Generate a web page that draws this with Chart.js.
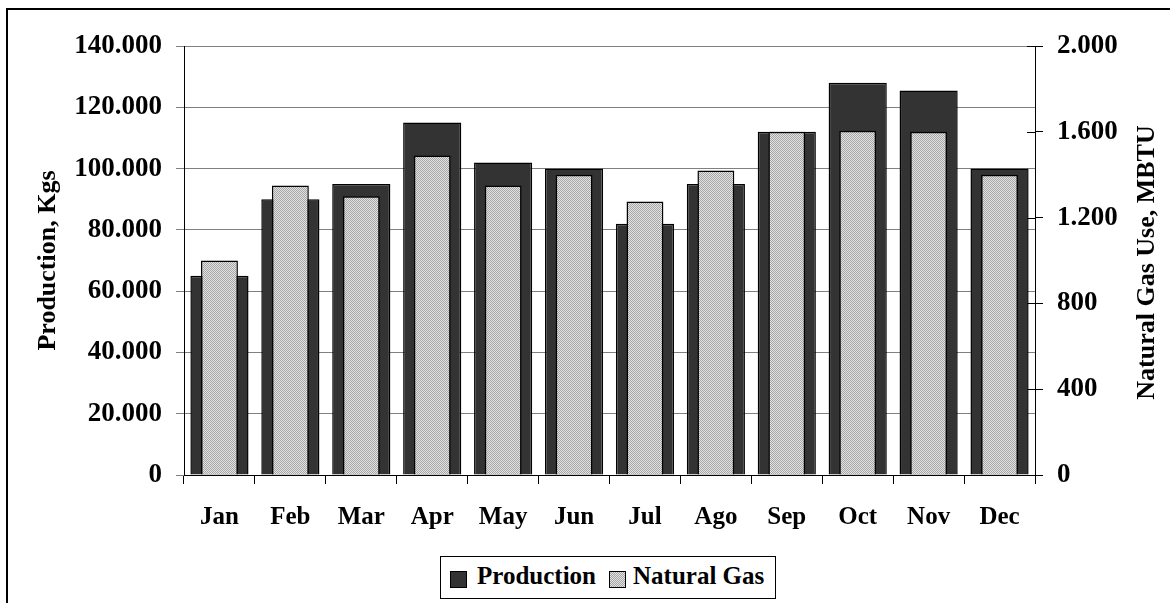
<!DOCTYPE html>
<html>
<head>
<meta charset="utf-8">
<script src="https://cdn.jsdelivr.net/npm/chart.js@4"></script>
<style>
  html, body { margin:0; padding:0; background:#fff; overflow:hidden; }
  #wrap { position:relative; width:1170px; height:603px; overflow:hidden; }
  #frame { position:absolute; left:6px; top:8px; width:1300px; height:700px; border:2px solid #000; box-sizing:border-box; }
  canvas { position:absolute; left:0; top:0; }
  #legend { position:absolute; left:440px; top:556px; width:336px; height:43px; border:1px solid #000; box-sizing:border-box; background:#fff;
            font-family:'Liberation Serif','Times New Roman',serif; font-weight:bold; font-size:25px; }
  .sw { position:absolute; top:14px; width:17px; height:17px; box-sizing:border-box; border:1px solid #000; }
  .lt { position:absolute; top:4px; line-height:30px; white-space:nowrap; }
</style>
</head>
<body>
<div id="wrap">
  <div id="frame"></div>
  <canvas id="c" width="1170" height="603"></canvas>
  <div id="legend"></div>
</div>
<script>
const categories = ['Jan','Feb','Mar','Apr','May','Jun','Jul','Ago','Sep','Oct','Nov','Dec'];
const productionValues = [65000, 90000, 95000, 115000, 102000, 100000, 82000, 95000, 112000, 128000, 125500, 100000];
const naturalGasValues = [1000, 1350, 1300, 1490, 1350, 1400, 1275, 1420, 1600, 1605, 1600, 1400];
const leftTickValues = [0, 20000, 40000, 60000, 80000, 100000, 120000, 140000];
const rightTickValues = [0, 400, 800, 1200, 1600, 2000];
const seriesLabels = ['Production', 'Natural Gas'];
const axisTitles = ['Production, Kgs', 'Natural Gas Use, MBTU'];

const FONT = "'Liberation Serif','Times New Roman',serif";
function fmt(v){ return String(v).replace(/\B(?=(\d{3})+(?!\d))/g, '.'); }

// checker pattern for natural gas bars
const pc = document.createElement('canvas');
pc.width = 2; pc.height = 2;
const px = pc.getContext('2d');
px.fillStyle = '#e2e2e2'; px.fillRect(0,0,2,2);
px.fillStyle = '#a6a6a6'; px.fillRect(0,0,1,1); px.fillRect(1,1,1,1);
const ctx = document.getElementById('c').getContext('2d');
const gasPattern = ctx.createPattern(pc, 'repeat');

const extras = {
  id: 'extras',
  afterDraw(chart) {
    const c = chart.ctx, a = chart.chartArea, r = chart.scales.y2;
    c.save();
    // inner half of right-axis tick marks
    c.strokeStyle = '#000'; c.lineWidth = 1;
    rightTickValues.forEach(v => {
      const y = Math.round(r.getPixelForValue(v)) + 0.5;
      c.beginPath(); c.moveTo(a.right - 8, y); c.lineTo(a.right, y); c.stroke();
    });
    // right axis title, reading bottom-to-top
    c.font = 'bold 26px ' + FONT;
    c.fillStyle = '#000'; c.textAlign = 'center'; c.textBaseline = 'middle';
    c.translate(1147, (a.top + a.bottom) / 2 + 2);
    c.rotate(-Math.PI / 2);
    c.fillText(axisTitles[1], 0, 0);
    c.restore();
  }
};

const chart = new Chart(ctx, {
  type: 'bar',
  data: {
    labels: categories,
    datasets: [
      { label: seriesLabels[0], data: productionValues, yAxisID: 'y', order: 1, grouped: false,
        backgroundColor: '#333333', borderColor: '#000', borderWidth: 1.5,
        barPercentage: 0.82, categoryPercentage: 1 },
      { label: seriesLabels[1], data: naturalGasValues, yAxisID: 'y2', order: 0, grouped: false,
        backgroundColor: gasPattern, borderColor: '#000', borderWidth: 1.5,
        barPercentage: 0.52, categoryPercentage: 1 }
    ]
  },
  options: {
    responsive: false,
    animation: false,
    layout: { padding: { left: 10, right: 0, top: 46, bottom: 58 } },
    plugins: { legend: { display: false }, tooltip: { enabled: false } },
    scales: {
      x: {
        grid: { offset: true, drawOnChartArea: false, color: '#000', tickColor: '#000', tickLength: 9 },
        border: { color: '#000', width: 1 },
        ticks: { color: '#000', font: { family: FONT, weight: 'bold', size: 25 }, padding: 19, maxRotation: 0 },
        afterFit(s) { s.height = 70; }
      },
      y: {
        position: 'left', min: 0, max: 140000,
        afterBuildTicks(s) { s.ticks = leftTickValues.map(v => ({ value: v })); },
        grid: { color: '#808080', tickColor: '#808080', tickLength: 8 },
        border: { color: '#000', width: 1 },
        ticks: { color: '#000', font: { family: FONT, weight: 'bold', size: 27 }, padding: 14, callback: v => fmt(v) },
        title: { display: true, text: axisTitles[0], color: '#000', font: { family: FONT, weight: 'bold', size: 26 }, padding: { top: 23, bottom: 0 } },
        afterFit(s) { s.width = 174; }
      },
      y2: {
        position: 'right', min: 0, max: 2000,
        afterBuildTicks(s) { s.ticks = rightTickValues.map(v => ({ value: v })); },
        grid: { drawOnChartArea: false, color: '#000', tickColor: '#000', tickLength: 8 },
        border: { color: '#000', width: 1 },
        ticks: { color: '#000', font: { family: FONT, weight: 'bold', size: 27 }, padding: 14, callback: v => fmt(v) },
        afterFit(s) { s.width = 135; }
      }
    }
  },
  plugins: [extras]
});

// legend built from dataset labels
const lg = document.getElementById('legend');
const items = [
  { x: 9, tx: 36, bg: '#333333' },
  { x: 168, tx: 192, bg: 'repeating-conic-gradient(#a6a6a6 0 25%, #e2e2e2 0 50%) 0 0/2px 2px' }
];
chart.data.datasets.forEach((d, i) => {
  const sw = document.createElement('div');
  sw.className = 'sw'; sw.style.left = items[i].x + 'px'; sw.style.background = items[i].bg;
  const t = document.createElement('div');
  t.className = 'lt'; t.style.left = items[i].tx + 'px'; t.textContent = d.label;
  lg.appendChild(sw); lg.appendChild(t);
});
</script>
</body>
</html>
